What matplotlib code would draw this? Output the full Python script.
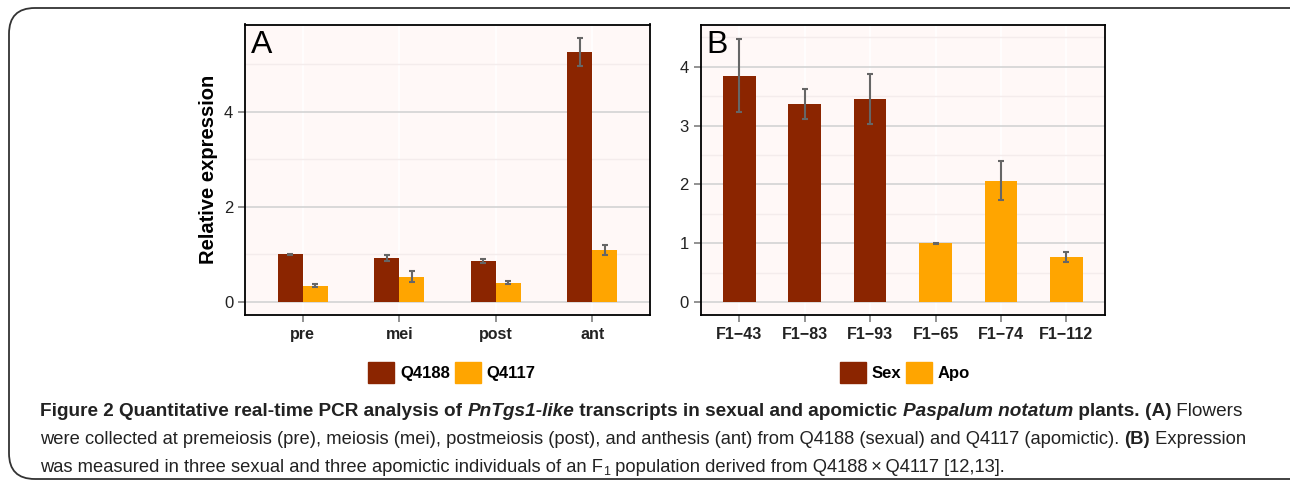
import numpy as np
import matplotlib
matplotlib.use("Agg")
import matplotlib.pyplot as plt
from matplotlib.patches import FancyBboxPatch, Patch

# ---- data ----
stages = ["pre", "mei", "post", "ant"]
q4188_mean = [1.00, 0.92, 0.86, 5.25]
q4188_err = [0.01, 0.07, 0.04, 0.30]
q4117_mean = [0.34, 0.53, 0.40, 1.09]
q4117_err = [0.03, 0.11, 0.03, 0.10]

plants = ["F1\u221243", "F1\u221283", "F1\u221293", "F1\u221265", "F1\u221274", "F1\u2212112"]
plant_mean = [3.85, 3.37, 3.45, 1.00, 2.06, 0.77]
plant_err = [0.62, 0.25, 0.43, 0.01, 0.33, 0.085]
plant_group = ["Sex", "Sex", "Sex", "Apo", "Apo", "Apo"]

SEX = "#8B2500"
APO = "#FFA500"
BG = "#FFF8F7"
ERR = "#666666"

plt.rcParams["font.family"] = ["Liberation Sans", "DejaVu Sans"]

fig = plt.figure(figsize=(12.9, 4.82), dpi=100)
W, H = 1290, 482


def px_rect(x0, y0, x1, y1):
    return [x0 / W, 1 - y1 / H, (x1 - x0) / W, (y1 - y0) / H]


def style_axes(ax, major, ylim):
    ax.set_facecolor(BG)
    for s in ax.spines.values():
        s.set_color("black")
        s.set_linewidth(1.3)
    ax.set_axisbelow(True)
    ax.set_yticks(major)
    step = major[1] - major[0]
    ax.set_yticks(np.arange(step / 2, ylim[1], step), minor=True)
    ax.grid(True, axis="y", which="major", color="#d3d3d3", linewidth=1.2)
    ax.grid(True, axis="x", which="major", color="white", linewidth=1.2)
    ax.grid(True, axis="y", which="minor", color="#f4ecec", linewidth=1.0)
    ax.tick_params(axis="y", which="minor", length=0)
    ax.tick_params(which="major", color="#7f7f7f", length=5, width=1.2,
                   labelsize=12, labelcolor="#222222")
    ax.tick_params(axis="x", labelsize=11.5)
    for lab in ax.get_xticklabels():
        lab.set_fontweight("bold")
    ax.set_ylim(*ylim)


# ---- panel A ----
axA = fig.add_axes(px_rect(245, 24.5, 650, 314.7))
x = np.arange(1, len(stages) + 1)
bw = 0.26
axA.bar(x - bw / 2, q4188_mean, bw, color=SEX, zorder=2)
axA.bar(x + bw / 2, q4117_mean, bw, color=APO, zorder=2)
axA.errorbar(x - bw / 2, q4188_mean, yerr=q4188_err, fmt="none", ecolor=ERR,
             elinewidth=1.5, capsize=2.2, capthick=1.5, zorder=3)
axA.errorbar(x + bw / 2, q4117_mean, yerr=q4117_err, fmt="none", ecolor=ERR,
             elinewidth=1.5, capsize=2.2, capthick=1.5, zorder=3)
axA.set_xlim(0.4, 4.6)
axA.set_xticks(x)
axA.set_xticklabels(stages)
style_axes(axA, [0, 2, 4], (-0.27, 5.83))
axA.set_ylabel("Relative expression", fontsize=14.5, fontweight="bold", labelpad=4)
axA.text(0.014, 0.902, "A", transform=axA.transAxes, fontsize=23,
         va="baseline", ha="left")

# ---- panel B ----
axB = fig.add_axes(px_rect(700.7, 24.5, 1105, 314.7))
xb = np.arange(1, len(plants) + 1)
colors = [SEX if g == "Sex" else APO for g in plant_group]
axB.bar(xb, plant_mean, 0.5, color=colors, zorder=2)
axB.errorbar(xb, plant_mean, yerr=plant_err, fmt="none", ecolor=ERR,
             elinewidth=1.5, capsize=2.2, capthick=1.5, zorder=3)
axB.set_xlim(0.41, 6.59)
axB.set_xticks(xb)
axB.set_xticklabels(plants)
style_axes(axB, [0, 1, 2, 3, 4], (-0.216, 4.72))
axB.text(0.013, 0.902, "B", transform=axB.transAxes, fontsize=23,
         va="baseline", ha="left")

# ---- legends ----
leg_kw = dict(loc="center", ncol=2, frameon=False, handlelength=1.55,
              handleheight=1.55, handletextpad=0.35, columnspacing=0.3,
              prop={"weight": "bold", "size": 12})
fig.legend([Patch(color=SEX), Patch(color=APO)], ["Q4188", "Q4117"],
           bbox_to_anchor=(452 / W, 1 - 372.7 / H), **leg_kw)
fig.legend([Patch(color=SEX), Patch(color=APO)], ["Sex", "Apo"],
           bbox_to_anchor=(905 / W, 1 - 372.7 / H), **leg_kw)

# ---- frame ----
frame = FancyBboxPatch((9 / W, 1 - 479 / H), 1.2, (479 - 8) / H,
                       boxstyle="round,pad=0,rounding_size=0.02",
                       transform=fig.transFigure, fill=False,
                       edgecolor="#333333", linewidth=1.3,
                       mutation_aspect=W / H)
fig.add_artist(frame)

# ---- caption ----
cap_family = ["Liberation Sans", "DejaVu Sans"]
renderer = fig.canvas.get_renderer()

line1 = [
    ("Figure 2 Quantitative real-time PCR analysis of ", "bold", "normal"),
    ("PnTgs1-like", "bold", "italic"),
    (" transcripts in sexual and apomictic ", "bold", "normal"),
    ("Paspalum notatum", "bold", "italic"),
    (" plants. ", "bold", "normal"),
    ("(A)", "bold", "normal"),
    (" Flowers", "normal", "normal"),
]
line2 = [
    ("were collected at premeiosis (pre), meiosis (mei), postmeiosis (post), "
     "and anthesis (ant) from Q4188 (sexual) and Q4117 (apomictic). ", "normal", "normal"),
    ("(B)", "bold", "normal"),
    (" Expression", "normal", "normal"),
]
line3 = [
    ("was measured in three sexual and three apomictic individuals of an F", "normal", "normal"),
    ("1", "normal", "normal", 0.68, 3),
    (" population derived from Q4188\u2009\u00d7\u2009Q4117 [12,13].", "normal", "normal"),
]


def caption_line(y_px, parts, size, x_px=40, draw=True):
    xpos = x_px
    made = []
    for part in parts:
        txt, weight, style = part[:3]
        scale = part[3] if len(part) > 3 else 1.0
        dy = part[4] if len(part) > 4 else 0
        t = fig.text(xpos / W, 1 - (y_px + dy) / H, txt, fontsize=size * scale,
                     fontweight=weight, fontstyle=style, family=cap_family,
                     color="#222222", va="baseline", ha="left")
        xpos += t.get_window_extent(renderer=renderer).width
        made.append(t)
    if not draw:
        for t in made:
            t.remove()
    return xpos - x_px


# fit the full caption lines to the text block width (~1208 px)
cap_size = 10 * 1208 / caption_line(0, line2, 10, draw=False)
head_size = 10 * 1208 / caption_line(0, line1, 10, draw=False)

caption_line(416, line1, head_size)
caption_line(444, line2, cap_size)
caption_line(472, line3, cap_size)

fig.savefig("out.png", dpi=100)
